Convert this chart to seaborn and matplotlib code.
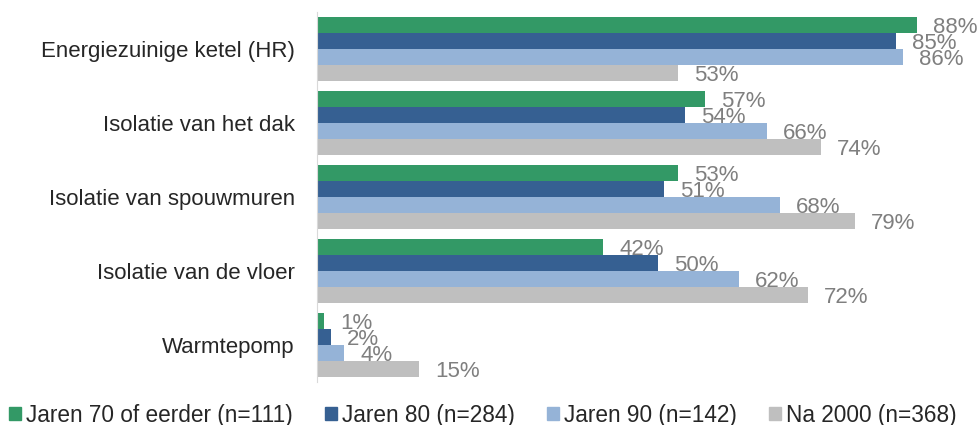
import seaborn as sns
import matplotlib.pyplot as plt
import pandas as pd

# measures and share per construction period (percent)
categories = ["Energiezuinige ketel (HR)", "Isolatie van het dak", "Isolatie van spouwmuren",
              "Isolatie van de vloer", "Warmtepomp"]
periods = ["Jaren 70 of eerder (n=111)", "Jaren 80 (n=284)", "Jaren 90 (n=142)", "Na 2000 (n=368)"]
jaren70 = [88, 57, 53, 42, 1]
jaren80 = [85, 54, 51, 50, 2]
jaren90 = [86, 66, 68, 62, 4]
na2000 = [53, 74, 79, 72, 15]
colors = ["#339966", "#366092", "#95B3D7", "#BFBFBF"]

rows = []
for period, vals in zip(periods, [jaren70, jaren80, jaren90, na2000]):
    for cat, v in zip(categories, vals):
        rows.append({"maatregel": cat, "periode": period, "pct": v})
df = pd.DataFrame(rows)

sns.set_style("white")
plt.rcParams['font.family'] = ['Liberation Sans', 'DejaVu Sans']

fig = plt.figure(figsize=(9.8, 4.25), dpi=100)
ax = fig.add_axes([317 / 980, 1 - 382 / 425, 0.97 - 317 / 980, 370 / 425])

sns.barplot(data=df, y="maatregel", x="pct", hue="periode", order=categories,
            hue_order=periods, palette=colors, saturation=1, width=0.865,
            orient="h", ax=ax, legend=False, linewidth=0)

for cont, vals in zip(ax.containers, [jaren70, jaren80, jaren90, na2000]):
    texts = ax.bar_label(cont, labels=[f"{v}%" for v in vals], padding=11.5,
                         color="#7F7F7F", fontsize=16)
    for t in texts:
        # labels sit a little below bar centre in the original
        t.xyann = (t.xyann[0], -1.5)

ax.set_xlim(0, 93)
ax.set_xlabel("")
ax.set_ylabel("")
ax.set_xticks([])
ax.tick_params(axis='y', length=0, pad=16, labelsize=16)
for side in ["top", "right", "bottom"]:
    ax.spines[side].set_visible(False)
ax.spines["left"].set_color("#D9D9D9")

handles = [plt.Rectangle((0, 0), 1, 1, color=c) for c in colors]
fig.legend(handles, periods, loc="lower center", bbox_to_anchor=(0.493, -0.052), ncol=4,
           frameon=False, fontsize=16.3, handlelength=0.53, handleheight=0.53,
           handletextpad=0.22, columnspacing=1.42)

fig.savefig("out.png", dpi=100)
